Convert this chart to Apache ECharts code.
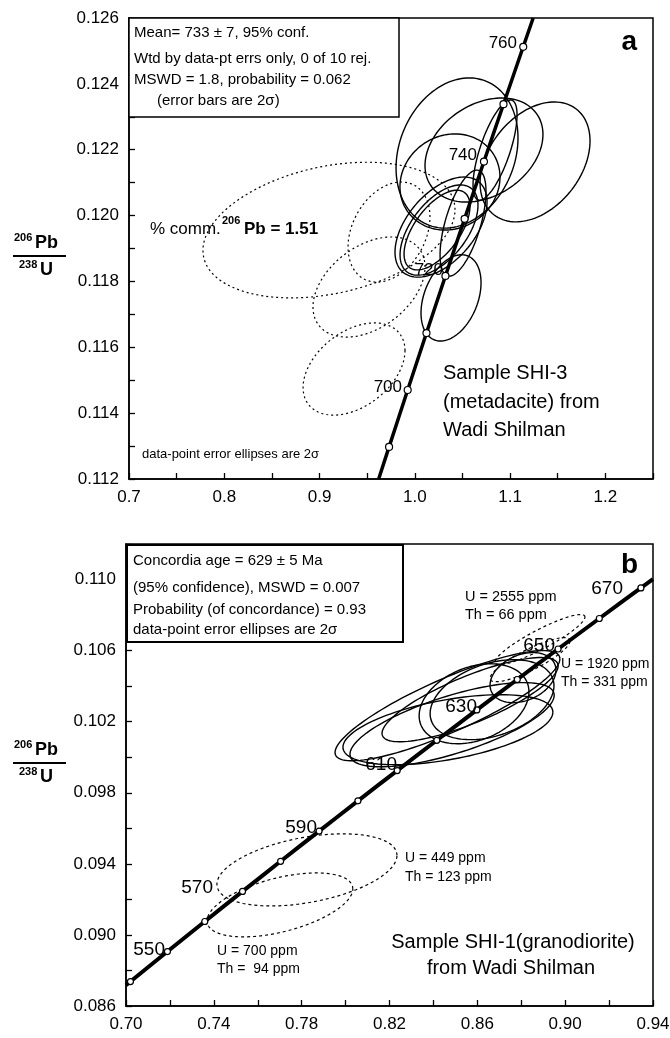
<!DOCTYPE html>
<html>
<head>
<meta charset="utf-8">
<script src="https://cdn.jsdelivr.net/npm/echarts@6/dist/echarts.min.js"></script>
<style>
html,body{margin:0;padding:0;background:#fff;}
#chart{width:670px;height:1038px;}
</style>
</head>
<body>
<div id="chart"></div>
<script>
// ---------- DATA ----------
// Panel a: concordia age ticks (Ma) and their coordinates (207Pb/235U, 206Pb/238U)
const topAges = [690, 700, 710, 720, 730, 740, 750, 760];
const topConcX = [0.97298, 0.99251, 1.01223, 1.03215, 1.05226, 1.07257, 1.09308, 1.11380];
const topConcY = [0.112975, 0.114703, 0.116433, 0.118166, 0.119902, 0.121641, 0.123382, 0.125126];
const topCurveStart = [0.96205, 0.112];
const topCurveEnd = [1.12422, 0.126];
const topAgeLabels = [700, 720, 740, 760];
// Ellipses: [centre x, centre y, half-width x, half-height y, correlation]
const topSolidEllipses = [
  [1.0443, 0.12190, 0.0640, 0.00228, 0.20],
  [1.0726, 0.12199, 0.0619, 0.00158, 0.30],
  [1.1262, 0.12163, 0.0577, 0.00182, 0.35],
  [1.0369, 0.12102, 0.0525, 0.00146, 0.10],
  [1.0506, 0.11977, 0.0241, 0.00161, 0.60],
  [1.0275, 0.11965, 0.0483, 0.00152, 0.50],
  [1.0254, 0.11956, 0.0409, 0.00137, 0.55],
  [1.0233, 0.11956, 0.0346, 0.00121, 0.60],
  [1.0380, 0.11750, 0.0315, 0.00131, 0.35],
  [1.0842, 0.12199, 0.0231, 0.00152, 0.70]
];
const topDashedEllipses = [
  [0.9099, 0.11956, 0.1323, 0.00206, 0.30],
  [0.9729, 0.11950, 0.0430, 0.00152, 0.30],
  [0.9519, 0.11783, 0.0588, 0.00152, 0.40],
  [0.9362, 0.11534, 0.0535, 0.00140, 0.40]
];
const topXTicks = [0.7, 1.25, 0.1];
const topYTicks = [0.112, 0.126, 0.002];

// Panel b
const botAges = [540, 550, 560, 570, 580, 590, 600, 610, 620, 630, 640, 650, 660, 670];
const botConcX = [0.70203, 0.71887, 0.73588, 0.75306, 0.77041, 0.78794, 0.80563, 0.82350, 0.84155, 0.85978, 0.87818, 0.89677, 0.91555, 0.93450];
const botConcY = [0.087376, 0.089064, 0.090755, 0.092448, 0.094144, 0.095843, 0.097544, 0.099248, 0.100954, 0.102664, 0.104375, 0.106090, 0.107807, 0.109527];
const botCurveStart = [0.70, 0.087172];
const botCurveEnd = [0.94, 0.110022];
const botAgeLabels = [550, 570, 590, 610, 630, 650, 670];
const botSolidEllipses = [
  [0.8464, 0.10290, 0.0512, 0.00310, 0.85],
  [0.8485, 0.10183, 0.0465, 0.00237, 0.70],
  [0.8466, 0.10155, 0.0478, 0.00197, 0.50],
  [0.8585, 0.10301, 0.0250, 0.00225, 0.30],
  [0.8667, 0.10324, 0.0282, 0.00225, 0.35],
  [0.8567, 0.10324, 0.0401, 0.00237, 0.80],
  [0.8808, 0.10448, 0.0150, 0.00141, 0.30]
];
const botDashedEllipses = [
  [0.8885, 0.10662, 0.0205, 0.00141, 0.90],
  [0.8840, 0.10549, 0.0182, 0.00124, 0.85],
  [0.7824, 0.09366, 0.0410, 0.00203, 0.40],
  [0.7701, 0.09169, 0.0332, 0.00180, 0.50]
];
const botXTicks = [0.70, 0.94, 0.04];
const botYTicks = [0.086, 0.112, 0.004];

// ---------- CHART ----------
const FONT = '"Liberation Sans", Arial, Helvetica, sans-serif';
const chart = echarts.init(document.getElementById('chart'), null, {renderer: 'canvas'});

function ellipseRender(dash, width) {
  return function (params, api) {
    const cx = api.value(0), cy = api.value(1), ax = api.value(2), ay = api.value(3), r = api.value(4);
    const s = Math.sqrt(1 - r * r);
    const pts = [];
    for (let k = 0; k <= 120; k++) {
      const t = 2 * Math.PI * k / 120;
      pts.push(api.coord([cx + ax * Math.cos(t), cy + ay * (r * Math.cos(t) + s * Math.sin(t))]));
    }
    return {type: 'polyline', shape: {points: pts}, silent: true,
      style: {fill: null, stroke: '#000', lineWidth: width, lineDash: dash}};
  };
}

function axis(grid, t, dec, showMax) {
  return {
    gridIndex: grid, type: 'value', min: t[0], max: t[1], interval: t[2],
    axisLine: {show: true, onZero: false, lineStyle: {color: '#000', width: 1.5}},
    axisTick: {show: true, inside: true, length: 6, lineStyle: {color: '#000', width: 1.3}},
    minorTick: {show: true, splitNumber: 2, length: 6, lineStyle: {color: '#000', width: 1.3}},
    splitLine: {show: false},
    axisLabel: {color: '#000', fontSize: 17, fontFamily: FONT, margin: 10, showMaxLabel: showMax, showMinLabel: true,
      formatter: v => v.toFixed(dec)}
  };
}

function curve(start, xs, ys, end) {
  const d = [start];
  for (let i = 0; i < xs.length; i++) d.push([xs[i], ys[i]]);
  d.push(end);
  return d;
}
function pts(xs, ys) { return xs.map((x, i) => [x, ys[i]]); }

function txt(x, y, text, size, opts) {
  return {type: 'text', x: x, y: y, silent: true, z: 100,
    style: Object.assign({text: text, fontSize: size, fontFamily: FONT, fill: '#000',
      align: 'left', verticalAlign: 'middle'}, (opts && opts.style) || {})};
}
function bold(x, y, text, size, align) {
  return txt(x, y, text, size, {style: {fontWeight: 'bold', align: align || 'left'}});
}
function yTitle(cy) {
  return [
    bold(14, cy - 18, '206', 11),
    bold(35, cy - 13, 'Pb', 18),
    {type: 'line', silent: true, shape: {x1: 13, y1: cy, x2: 66, y2: cy}, style: {stroke: '#000', lineWidth: 2}},
    bold(19, cy + 9, '238', 11),
    bold(40, cy + 14, 'U', 18)
  ];
}

const lbl = {
  700: [402, 387], 720: [443, 270], 740: [477, 155], 760: [517, 43],
  550: [165, 950], 570: [213, 888], 590: [317, 828], 610: [397, 765],
  630: [477, 707], 650: [555, 646], 670: [623, 589]
};

const graphics = [
  // Panel a box
  {type: 'rect', silent: true, shape: {x: 129, y: 18, width: 270, height: 99}, style: {fill: '#fff', stroke: '#000', lineWidth: 1.5}, z: 90},
  txt(134, 33, 'Mean= 733 \u00b1 7, 95% conf.', 15),
  txt(134, 59, 'Wtd by data-pt errs only, 0 of 10 rej.', 15),
  txt(134, 80, 'MSWD = 1.8, probability = 0.062', 15),
  txt(157, 101, '(error bars are 2\u03c3)', 15),
  bold(637, 42, 'a', 28, 'right'),
  txt(150, 229, '% comm.', 17),
  bold(222, 221, '206', 11),
  bold(244, 229, 'Pb = 1.51', 17),
  txt(443, 373, 'Sample SHI-3', 20),
  txt(443, 402, '(metadacite) from', 20),
  txt(443, 430, 'Wadi Shilman', 20),
  txt(142, 454, 'data-point error ellipses are 2\u03c3', 13),
  // Panel b box
  {type: 'rect', silent: true, shape: {x: 127, y: 545, width: 276, height: 97}, style: {fill: '#fff', stroke: '#000', lineWidth: 2}, z: 90},
  txt(133, 561, 'Concordia age = 629 \u00b1 5 Ma', 15),
  txt(133, 588, '(95% confidence), MSWD = 0.007', 15),
  txt(133, 610, 'Probability (of concordance) = 0.93', 15),
  txt(133, 630, 'data-point error ellipses are 2\u03c3', 15),
  bold(638, 565, 'b', 28, 'right'),
  txt(465, 597, 'U = 2555 ppm', 14.5),
  txt(465, 615, 'Th = 66 ppm', 14.5),
  txt(561, 664, 'U = 1920 ppm', 14),
  txt(561, 682, 'Th = 331 ppm', 14),
  txt(405, 858, 'U = 449 ppm', 14),
  txt(405, 877, 'Th = 123 ppm', 14),
  txt(217, 951, 'U = 700 ppm', 14),
  txt(217, 969, 'Th =  94 ppm', 14),
  txt(513, 942, 'Sample SHI-1(granodiorite)', 20, {style: {align: 'center'}}),
  txt(511, 968, 'from Wadi Shilman', 20, {style: {align: 'center'}})
].concat(yTitle(256), yTitle(763));

topAgeLabels.forEach(a => graphics.push(txt(lbl[a][0], lbl[a][1], String(a), 17, {style: {align: 'right'}})));
botAgeLabels.forEach(a => graphics.push(txt(lbl[a][0], lbl[a][1], String(a), 19, {style: {align: 'right'}})));

const option = {
  animation: false,
  backgroundColor: '#fff',
  grid: [
    {left: 129, top: 18, width: 524, height: 461, show: true, borderColor: '#000', borderWidth: 1.5,
      backgroundColor: 'transparent', containLabel: false, outerBoundsMode: 'none'},
    {left: 126, top: 544, width: 527, height: 462, show: true, borderColor: '#000', borderWidth: 1.5,
      backgroundColor: 'transparent', containLabel: false, outerBoundsMode: 'none'}
  ],
  xAxis: [axis(0, topXTicks, 1, false), axis(1, botXTicks, 2, true)],
  yAxis: [axis(0, topYTicks, 3, true), axis(1, botYTicks, 3, false)],
  series: [
    {type: 'custom', xAxisIndex: 0, yAxisIndex: 0, renderItem: ellipseRender([2, 3], 1.2), data: topDashedEllipses, z: 2},
    {type: 'custom', xAxisIndex: 0, yAxisIndex: 0, renderItem: ellipseRender(null, 1.4), data: topSolidEllipses, z: 2},
    {type: 'line', xAxisIndex: 0, yAxisIndex: 0, data: curve(topCurveStart, topConcX, topConcY, topCurveEnd),
      showSymbol: false, symbol: 'none', smooth: true, lineStyle: {color: '#000', width: 3.5}, z: 3},
    {type: 'scatter', xAxisIndex: 0, yAxisIndex: 0, data: pts(topConcX, topConcY), symbol: 'circle', symbolSize: 7,
      itemStyle: {color: '#fff', borderColor: '#000', borderWidth: 1.2, opacity: 1}, z: 4},
    {type: 'custom', xAxisIndex: 1, yAxisIndex: 1, renderItem: ellipseRender([3, 3], 1.2), data: botDashedEllipses, z: 2},
    {type: 'custom', xAxisIndex: 1, yAxisIndex: 1, renderItem: ellipseRender(null, 1.4), data: botSolidEllipses, z: 2},
    {type: 'line', xAxisIndex: 1, yAxisIndex: 1, data: curve(botCurveStart, botConcX, botConcY, botCurveEnd),
      showSymbol: false, symbol: 'none', smooth: true, lineStyle: {color: '#000', width: 4}, z: 3},
    {type: 'scatter', xAxisIndex: 1, yAxisIndex: 1, data: pts(botConcX, botConcY), symbol: 'circle', symbolSize: 6,
      itemStyle: {color: '#fff', borderColor: '#000', borderWidth: 1.2, opacity: 1}, z: 4}
  ],
  graphic: graphics
};
chart.setOption(option);
</script>
</body>
</html>
